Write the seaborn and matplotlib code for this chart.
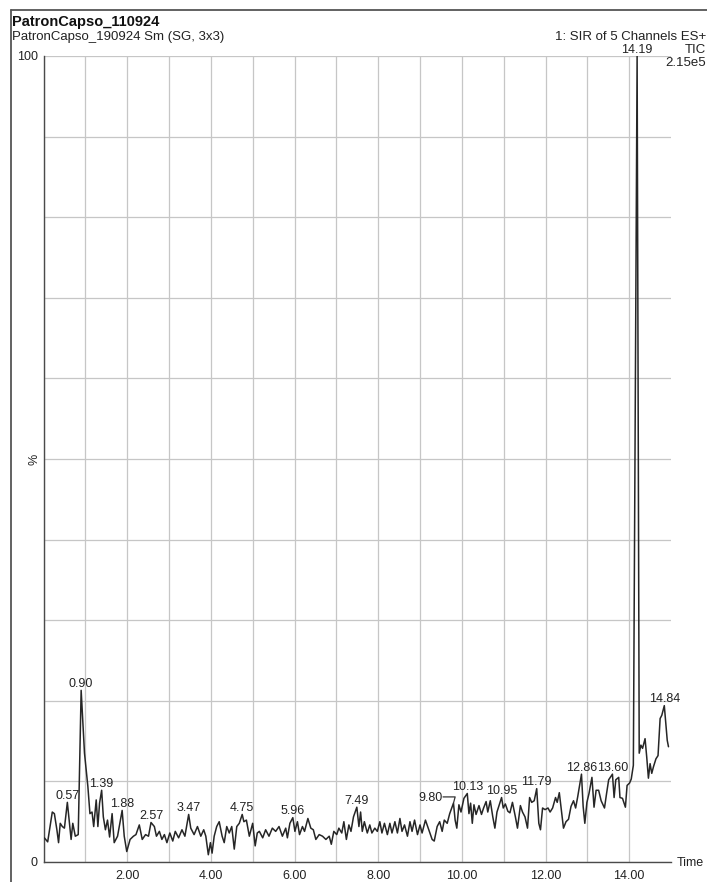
import numpy as np
import pandas as pd
import matplotlib
matplotlib.use("Agg")
import matplotlib.pyplot as plt
from matplotlib.lines import Line2D
import seaborn as sns

# Retention time (min) and relative intensity (%) of the smoothed TIC trace
time_min = [
    0.02, 0.10, 0.16, 0.21, 0.26, 0.32, 0.36, 0.40, 0.45, 0.50, 0.57, 0.62, 0.66, 0.70, 0.76, 0.83,
    0.90, 0.98, 1.06, 1.11, 1.16, 1.20, 1.26, 1.30, 1.34, 1.39, 1.43, 1.48, 1.53, 1.58, 1.64, 1.69,
    1.77, 1.88, 1.93, 1.99, 2.07, 2.15, 2.21, 2.29, 2.36, 2.44, 2.51, 2.57, 2.65, 2.70, 2.77, 2.83,
    2.89, 2.95, 3.02, 3.09, 3.15, 3.23, 3.31, 3.38, 3.47, 3.52, 3.60, 3.68, 3.76, 3.83, 3.88, 3.94,
    3.99, 4.03, 4.08, 4.14, 4.20, 4.27, 4.32, 4.38, 4.44, 4.50, 4.56, 4.62, 4.68, 4.75, 4.79, 4.85,
    4.92, 5.00, 5.06, 5.11, 5.16, 5.24, 5.31, 5.39, 5.47, 5.55, 5.63, 5.71, 5.79, 5.83, 5.89, 5.96,
    6.01, 6.07, 6.12, 6.19, 6.24, 6.32, 6.39, 6.45, 6.51, 6.59, 6.67, 6.75, 6.83, 6.88, 6.94, 7.01,
    7.06, 7.13, 7.18, 7.24, 7.30, 7.35, 7.41, 7.49, 7.54, 7.58, 7.62, 7.67, 7.74, 7.80, 7.85, 7.92,
    7.98, 8.04, 8.09, 8.15, 8.22, 8.28, 8.33, 8.40, 8.46, 8.52, 8.57, 8.63, 8.70, 8.76, 8.81, 8.87,
    8.94, 9.00, 9.05, 9.13, 9.21, 9.29, 9.34, 9.41, 9.47, 9.53, 9.58, 9.65, 9.71, 9.80, 9.84, 9.88,
    9.93, 9.98, 10.05, 10.13, 10.17, 10.21, 10.25, 10.29, 10.34, 10.41, 10.47, 10.52, 10.58, 10.62,
    10.68, 10.74, 10.79, 10.84, 10.95, 10.99, 11.04, 11.10, 11.15, 11.21, 11.28, 11.33, 11.40, 11.45,
    11.51, 11.57, 11.62, 11.67, 11.73, 11.79, 11.84, 11.88, 11.93, 11.99, 12.06, 12.11, 12.17, 12.24,
    12.28, 12.33, 12.38, 12.43, 12.49, 12.55, 12.61, 12.67, 12.72, 12.77, 12.86, 12.90, 12.94, 12.99,
    13.04, 13.11, 13.16, 13.21, 13.27, 13.33, 13.41, 13.46, 13.51, 13.60, 13.64, 13.68, 13.75, 13.78,
    13.84, 13.91, 13.95, 14.01, 14.05, 14.10, 14.19, 14.24, 14.28, 14.32, 14.38, 14.42, 14.46, 14.50,
    14.54, 14.58, 14.64, 14.69, 14.74, 14.78, 14.84, 14.88, 14.91, 14.94,
]
intensity_pct = [
    3.0, 2.5, 4.5, 6.2, 6.0, 4.0, 2.4, 4.8, 4.4, 4.2, 7.4, 4.8, 2.8, 4.8, 3.2, 3.4,
    21.3, 13.5, 9.4, 6.0, 6.2, 4.4, 7.7, 4.4, 7.3, 8.9, 5.6, 4.0, 5.2, 3.1, 6.0, 2.4,
    3.2, 6.4, 3.2, 1.3, 2.8, 3.2, 3.4, 4.6, 2.8, 3.4, 3.2, 4.9, 4.4, 3.2, 3.8, 2.8,
    3.4, 2.4, 3.6, 2.6, 3.8, 3.0, 4.0, 3.2, 5.9, 4.2, 3.4, 4.4, 3.2, 4.0, 3.2, 0.9,
    2.4, 1.1, 3.2, 4.4, 5.0, 3.2, 2.4, 4.4, 3.6, 4.4, 1.6, 4.4, 4.8, 5.9, 5.0, 5.2,
    3.2, 4.8, 2.0, 3.6, 3.8, 3.0, 4.0, 3.2, 4.2, 3.8, 4.4, 3.2, 4.2, 3.0, 4.8, 5.5,
    3.8, 5.0, 3.4, 4.4, 3.8, 5.4, 4.2, 4.0, 2.8, 3.4, 3.2, 2.8, 3.2, 2.2, 3.8, 3.4,
    4.2, 3.6, 5.0, 2.8, 4.6, 3.8, 5.6, 6.8, 4.4, 6.2, 3.8, 5.0, 3.6, 4.6, 3.6, 4.2,
    3.8, 5.0, 3.6, 4.8, 3.4, 4.8, 3.6, 5.0, 3.6, 5.4, 3.8, 4.6, 3.2, 5.0, 3.8, 5.2,
    3.4, 4.6, 3.6, 5.2, 4.0, 2.8, 2.6, 4.4, 5.0, 3.8, 5.2, 4.8, 6.0, 7.3, 5.2, 4.2,
    7.1, 6.2, 7.9, 8.5, 6.0, 7.3, 4.8, 7.1, 5.9, 7.0, 5.9, 6.7, 7.5, 6.2,
    7.6, 5.6, 4.2, 6.2, 8.0, 6.7, 7.2, 6.3, 6.1, 7.4, 5.6, 4.2, 7.0, 6.2,
    5.6, 4.2, 8.0, 7.4, 7.6, 9.1, 4.8, 4.0, 6.7, 6.5, 6.7, 6.2, 6.7, 8.0,
    7.4, 8.6, 6.4, 4.2, 5.0, 5.3, 6.9, 7.6, 6.7, 8.1, 10.9, 6.9, 4.8, 7.4,
    8.5, 10.5, 6.8, 8.9, 8.9, 7.6, 6.7, 8.5, 10.2, 10.9, 8.0, 10.2, 10.5, 8.0,
    7.9, 6.8, 9.5, 9.8, 10.3, 12.0, 100.0, 13.5, 14.5, 14.1, 15.3, 13.0, 10.4, 12.2,
    11.0, 11.8, 12.8, 13.2, 17.8, 18.2, 19.4, 17.0, 15.1, 14.3,
]

# Retention times marked on the trace
peak_times = [0.57, 0.90, 1.39, 1.88, 2.57, 3.47, 4.75, 5.96, 7.49, 9.80,
              10.13, 10.95, 11.79, 12.86, 13.60, 14.19, 14.84]

x_major = list(range(0, 15))
x_tick_labels = ["", "", "2.00", "", "4.00", "", "6.00", "", "8.00", "",
                 "10.00", "", "12.00", "", "14.00"]
y_major = list(range(0, 101, 10))
y_tick_labels = ["0", "", "", "", "", "", "", "", "", "", "100"]

title_main = "PatronCapso_110924"
title_sub = "PatronCapso_190924 Sm (SG, 3x3)"
channel_text = "1: SIR of 5 Channels ES+"
trace_kind = "TIC"
trace_max = "2.15e5"

sns.set_theme(style="white")
plt.rcParams["font.family"] = ["Liberation Sans", "DejaVu Sans"]

W, H = 707, 882
fig = plt.figure(figsize=(W / 100, H / 100), dpi=100)
fig.patch.set_facecolor("white")
ax = fig.add_axes([43.5 / W, 1 - 862 / H, 627.5 / W, (862 - 56) / H])
ax.set_facecolor("white")

df = pd.DataFrame({"Time": time_min, "Intensity": intensity_pct})
sns.lineplot(data=df, x="Time", y="Intensity", ax=ax, color="#262626",
             lw=1.1, estimator=None, sort=False, zorder=3)

ax.set_xlim(0, 15)
ax.set_ylim(0, 100)
ax.set_xlabel("")
ax.set_ylabel("")

ax.set_xticks(x_major)
ax.set_xticklabels(x_tick_labels)
ax.set_xticks(np.arange(0, 15.01, 0.2), minor=True)
ax.set_yticks(y_major)
ax.set_yticklabels(y_tick_labels)

ax.grid(True, which="major", color="#c6c6c6", lw=0.9)
ax.set_axisbelow(True)

for side in ("top", "right"):
    ax.spines[side].set_visible(False)
for side in ("left", "bottom"):
    ax.spines[side].set_color("#4a4a4a")
    ax.spines[side].set_linewidth(1.0)

ax.tick_params(axis="x", which="both", direction="out", length=2.5, width=0.9,
               color="#4a4a4a", labelsize=9, pad=3, labelcolor="#222222")
ax.tick_params(axis="y", which="major", direction="out", length=3, width=0.9,
               color="#4a4a4a", labelsize=9, pad=1, labelcolor="#222222")

# Peak retention-time labels
series = dict(zip(time_min, intensity_pct))
for t in peak_times:
    v = series[t]
    if abs(t - 9.80) < 1e-9:
        ann = ax.annotate(f"{t:.2f}", xy=(t, v), xytext=(-8, 1.5), textcoords="offset points",
                          ha="right", va="baseline", fontsize=9, color="#222222")
        # leader from the end of the label down to the apex
        ax.annotate("", xy=(t, v), xytext=(-7.5, 4.5), textcoords="offset points",
                    arrowprops=dict(arrowstyle="-", color="#333333", lw=0.9,
                                    shrinkA=0, shrinkB=0, patchA=None,
                                    connectionstyle="angle,angleA=0,angleB=75,rad=0"))
    else:
        ax.annotate(f"{t:.2f}", xy=(t, v), xytext=(0, 2.5), textcoords="offset points",
                    ha="center", va="baseline", fontsize=9, color="#222222",
                    annotation_clip=False)

# Axis captions
fig.text(34 / W, 1 - 459 / H, "%", rotation=90, ha="center", va="center",
         fontsize=9, color="#222222")
fig.text(677 / W, 1 - 863 / H, "Time", ha="left", va="center",
         fontsize=9, color="#222222")

# Header lines
fig.text(12 / W, 1 - 26 / H, title_main, ha="left", va="baseline",
         fontsize=10.5, fontweight="bold", color="#111111")
fig.text(12 / W, 1 - 40 / H, title_sub, ha="left", va="baseline",
         fontsize=9.5, color="#222222")
fig.text(706 / W, 1 - 40 / H, channel_text, ha="right", va="baseline",
         fontsize=9.5, color="#222222")
fig.text(706 / W, 1 - 53 / H, trace_kind, ha="right", va="baseline",
         fontsize=9.5, color="#222222")
fig.text(706 / W, 1 - 66 / H, trace_max, ha="right", va="baseline",
         fontsize=9.5, color="#222222")

# Frame around the report panel
fig.add_artist(Line2D([11 / W, 11 / W], [0, 1 - 10 / H], transform=fig.transFigure,
                      color="#555555", lw=1.3))
fig.add_artist(Line2D([11 / W, 1], [1 - 10 / H, 1 - 10 / H], transform=fig.transFigure,
                      color="#555555", lw=1.3))

fig.savefig("out.png", dpi=100, facecolor="white")
